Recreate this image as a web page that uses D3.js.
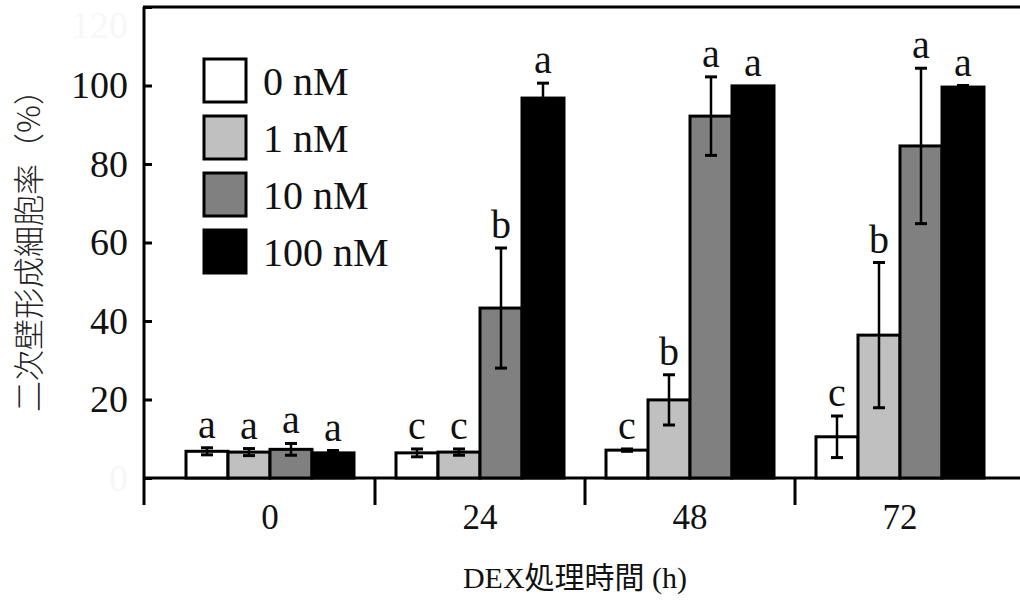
<!DOCTYPE html>
<html>
<head>
<meta charset="utf-8">
<script src="https://cdn.jsdelivr.net/npm/d3@7"></script>
<style>
  body { margin: 0; background: #fff; }
  svg { display: block; }
</style>
</head>
<body>
<div id="container"></div>
<script>
// values
let groups = ["0", "24", "48", "72"];
let series = ["0 nM", "1 nM", "10 nM", "100 nM"];
let fills = ["#ffffff", "#c0c0c0", "#808080", "#000000"];
let rates = [
  [6.8, 6.6, 7.3, 6.4],
  [6.4, 6.6, 43.3, 96.8],
  [7.1, 19.9, 92.2, 99.9],
  [10.5, 36.4, 84.6, 99.6]
];
let errs = [
  [0.9, 0.9, 1.5, 0.6],
  [1.0, 0.8, 15.3, 3.8],
  [0.3, 6.4, 10.0, 0],
  [5.3, 18.5, 19.8, 0.4]
];
let letters = [
  ["a", "a", "a", "a"],
  ["c", "c", "b", "a"],
  ["c", "b", "a", "a"],
  ["c", "b", "a", "a"]
];
let yTicks = [0, 20, 40, 60, 80, 100, 120];

let width = 1020, height = 601;
let serif = "'Liberation Serif', 'Noto Sans CJK JP', serif";

let svg = d3.select("#container").append("svg")
  .attr("width", width)
  .attr("height", height);

let y = d3.scaleLinear().domain([0, 120]).range([478, 7]);
let x0 = d3.scaleBand().domain(groups).range([165, 1005]);
let x1 = d3.scaleBand().domain(series).range([0, x0.bandwidth()]).paddingOuter(0.5);
let color = d3.scaleOrdinal().domain(series).range(fills);

let rows = [];
groups.forEach((g, i) => {
  series.forEach((s, j) => {
    rows.push({ g: g, s: s, v: rates[i][j], e: errs[i][j], l: letters[i][j] });
  });
});

// y axis
let yAxis = d3.axisLeft(y)
  .tickValues(yTicks)
  .tickSizeInner(-8)
  .tickSizeOuter(0)
  .tickPadding(16);

let yG = svg.append("g")
  .attr("transform", "translate(144,0)")
  .call(yAxis);
yG.select(".domain").remove();
yG.selectAll(".tick line").attr("stroke", "#000").attr("stroke-width", 3);
yG.selectAll(".tick text")
  .attr("font-family", serif)
  .attr("font-size", 38)
  .attr("fill", (d) => (d === 0 || d === 120 ? "#f7f7f7" : "#111"))
  .attr("dy", (d) => (d === 120 ? "0.8em" : "0.32em"));

// x axis labels
let xAxis = d3.axisBottom(x0).tickSize(0).tickPadding(26);
let xG = svg.append("g")
  .attr("transform", "translate(0,478)")
  .call(xAxis);
xG.select(".domain").remove();
xG.selectAll(".tick text")
  .attr("font-family", serif)
  .attr("font-size", 35)
  .attr("fill", "#111");

// frame lines
svg.append("line")
  .attr("x1", 144).attr("x2", 144)
  .attr("y1", y(120)).attr("y2", 505)
  .attr("stroke", "#000").attr("stroke-width", 3);
svg.append("line")
  .attr("x1", 143).attr("x2", width)
  .attr("y1", y(120)).attr("y2", y(120))
  .attr("stroke", "#000").attr("stroke-width", 3);
svg.append("line")
  .attr("x1", 143).attr("x2", width)
  .attr("y1", y(0)).attr("y2", y(0))
  .attr("stroke", "#000").attr("stroke-width", 3);

// group separators
svg.append("g").selectAll("line")
  .data(groups.slice(1))
  .enter()
  .append("line")
  .attr("x1", (d) => x0(d))
  .attr("x2", (d) => x0(d))
  .attr("y1", y(0))
  .attr("y2", 505)
  .attr("stroke", "#000")
  .attr("stroke-width", 3);

// bars
let bars = svg.append("g")
  .selectAll("g")
  .data(rows)
  .enter()
  .append("g")
  .attr("transform", (d) => "translate(" + (x0(d.g) + x1(d.s)) + ",0)");

bars.append("rect")
  .attr("x", 0)
  .attr("y", (d) => y(d.v))
  .attr("width", x1.bandwidth())
  .attr("height", (d) => y(0) - y(d.v))
  .attr("fill", (d) => color(d.s))
  .attr("stroke", "#000")
  .attr("stroke-width", 3);

// error bars
let cx = x1.bandwidth() / 2;
bars.filter((d) => d.e > 0).append("line")
  .attr("x1", cx).attr("x2", cx)
  .attr("y1", (d) => y(d.v + d.e))
  .attr("y2", (d) => y(d.v - d.e))
  .attr("stroke", "#000").attr("stroke-width", 2.5);
bars.filter((d) => d.e > 0).append("line")
  .attr("x1", cx - 6).attr("x2", cx + 6)
  .attr("y1", (d) => y(d.v + d.e))
  .attr("y2", (d) => y(d.v + d.e))
  .attr("stroke", "#000").attr("stroke-width", 3);
bars.filter((d) => d.e > 0).append("line")
  .attr("x1", cx - 6).attr("x2", cx + 6)
  .attr("y1", (d) => y(d.v - d.e))
  .attr("y2", (d) => y(d.v - d.e))
  .attr("stroke", "#000").attr("stroke-width", 3);

// significance letters
bars.append("text")
  .attr("x", cx)
  .attr("y", (d) => y(d.v + d.e) - 10)
  .attr("text-anchor", "middle")
  .attr("font-family", serif)
  .attr("font-size", 40)
  .attr("fill", "#111")
  .text((d) => d.l);

// legend
let legend = svg.append("g")
  .attr("transform", "translate(204,59)")
  .selectAll("g")
  .data(series)
  .enter()
  .append("g")
  .attr("transform", (d, i) => "translate(0," + i * 57 + ")");

legend.append("rect")
  .attr("width", 42)
  .attr("height", 43)
  .attr("fill", (d) => color(d))
  .attr("stroke", "#000")
  .attr("stroke-width", 3);

legend.append("text")
  .attr("x", 59)
  .attr("y", 22)
  .attr("dy", "0.35em")
  .attr("font-family", serif)
  .attr("font-size", 40)
  .attr("fill", "#111")
  .text((d) => d);

// axis titles
svg.append("text")
  .attr("x", 575)
  .attr("y", 588)
  .attr("text-anchor", "middle")
  .attr("font-family", serif)
  .attr("font-size", 30)
  .attr("fill", "#111")
  .text("DEX処理時間 (h)");

svg.append("text")
  .attr("transform", "translate(40,243) rotate(-90)")
  .attr("text-anchor", "middle")
  .attr("font-family", "'Noto Sans CJK JP', sans-serif")
  .attr("font-size", 31)
  .attr("font-weight", 300)
  .attr("fill", "#222")
  .text("二次壁形成細胞率（%）");
</script>
</body>
</html>
